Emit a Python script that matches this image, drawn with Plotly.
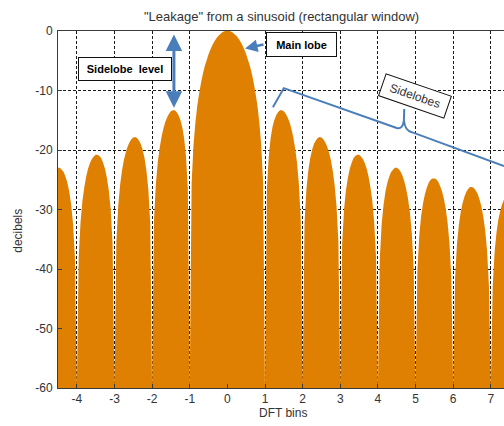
import numpy as np
import plotly.graph_objects as go

# Spectrum of a rectangular-windowed sinusoid, in dB, sampled every 0.05 bin
BIN_START, BIN_STOP, BIN_STEP = -4.5, 7.4, 0.05
bins = np.round(np.arange(BIN_START, BIN_STOP + BIN_STEP / 2, BIN_STEP), 2)

level_db = [
    # -4.50 .. -4.05
    -23.0, -23.0, -23.3, -23.7, -24.5, -25.5, -27.0, -29.2, -32.4, -38.2,
    # -4.00 .. -3.05
    -60.0, -38.0, -32.0, -28.5, -26.2, -24.4, -23.1, -22.2, -21.5, -21.1,
    -20.8, -20.8, -21.0, -21.4, -22.2, -23.2, -24.7, -26.8, -30.0, -35.7,
    # -3.00 .. -2.05
    -60.0, -35.5, -29.4, -25.9, -23.5, -21.7, -20.4, -19.4, -18.7, -18.2,
    -17.9, -17.8, -18.0, -18.4, -19.0, -20.0, -21.4, -23.5, -26.6, -32.3,
    # -2.00 .. -1.05
    -60.0, -31.9, -25.7, -22.1, -19.7, -17.8, -16.4, -15.3, -14.5, -13.9,
    -13.5, -13.3, -13.3, -13.6, -14.1, -14.9, -16.1, -18.0, -21.0, -26.5,
    # -1.00 .. -0.05
    -60.0, -25.6, -19.2, -15.4, -12.6, -10.5, -8.7, -7.2, -5.9, -4.9,
    -3.9, -3.1, -2.4, -1.8, -1.3, -0.9, -0.6, -0.3, -0.1, -0.0,
    # 0.00 .. 0.95
    0.0, -0.0, -0.1, -0.3, -0.6, -0.9, -1.3, -1.8, -2.4, -3.1,
    -3.9, -4.9, -5.9, -7.2, -8.7, -10.5, -12.6, -15.4, -19.2, -25.6,
    # 1.00 .. 1.95
    -60.0, -26.5, -21.0, -18.0, -16.1, -14.9, -14.1, -13.6, -13.3, -13.3,
    -13.5, -13.9, -14.5, -15.3, -16.4, -17.8, -19.7, -22.1, -25.7, -31.9,
    # 2.00 .. 2.95
    -60.0, -32.3, -26.6, -23.5, -21.4, -20.0, -19.0, -18.4, -18.0, -17.8,
    -17.9, -18.2, -18.7, -19.4, -20.4, -21.7, -23.5, -25.9, -29.4, -35.5,
    # 3.00 .. 3.95
    -60.0, -35.7, -30.0, -26.8, -24.7, -23.2, -22.2, -21.4, -21.0, -20.8,
    -20.8, -21.1, -21.5, -22.2, -23.1, -24.4, -26.2, -28.5, -32.0, -38.0,
    # 4.00 .. 4.95
    -60.0, -38.2, -32.4, -29.2, -27.0, -25.5, -24.5, -23.7, -23.3, -23.0,
    -23.0, -23.2, -23.6, -24.3, -25.2, -26.5, -28.2, -30.5, -33.9, -39.9,
    # 5.00 .. 5.95
    -60.0, -40.1, -34.3, -31.0, -28.9, -27.4, -26.3, -25.5, -25.0, -24.8,
    -24.8, -24.9, -25.3, -26.0, -26.9, -28.1, -29.8, -32.1, -35.6, -41.5,
    # 6.00 .. 6.95
    -60.0, -41.7, -35.9, -32.6, -30.4, -28.9, -27.8, -27.0, -26.5, -26.2,
    -26.2, -26.4, -26.8, -27.4, -28.3, -29.5, -31.2, -33.5, -36.9, -42.9,
    # 7.00 .. 7.40
    -60.0, -43.0, -37.2, -33.9, -31.7, -30.2, -29.1, -28.3, -27.8,
]
assert len(level_db) == len(bins)

x_ticks = [-4, -3, -2, -1, 0, 1, 2, 3, 4, 5, 6, 7]
x_tick_labels = ["-4", "-3", "-2", "-1", "0", "1", "2", "3", "4", "5", "6", "7"]
y_ticks = [0, -10, -20, -30, -40, -50, -60]
y_tick_labels = ["0", "-10", "-20", "-30", "-40", "-50", "-60"]
X_RANGE = [-4.5, 7.35]
Y_RANGE = [-60, 0]

TITLE = '"Leakage" from a sinusoid (rectangular window)'
X_TITLE = "DFT bins"
Y_TITLE = "decibels"

ORANGE = "#E08003"
BLUE = "#4A7EBB"
TEXT = "#333333"
FONT = "Liberation Sans, Arial, sans-serif"

fig = go.Figure()

# filled spectrum, closed down to the axis floor
fig.add_trace(go.Scatter(
    x=list(bins) + [bins[-1], bins[0]],
    y=level_db + [Y_RANGE[0], Y_RANGE[0]],
    mode="none",
    fill="toself",
    fillcolor=ORANGE,
    hoverinfo="skip",
))

axis_common = dict(
    showgrid=True, gridcolor="#1a1a1a", gridwidth=1, griddash="3px,2px",
    zeroline=False, showline=True, linecolor="#3a3a3a", linewidth=1,
    ticks="inside", ticklen=4, tickcolor="#3a3a3a",
    tickfont=dict(family=FONT, size=12, color=TEXT),
)
fig.update_xaxes(range=X_RANGE, tickvals=x_ticks, ticktext=x_tick_labels,
                 mirror=True, **axis_common)
fig.update_yaxes(range=Y_RANGE, tickvals=y_ticks, ticktext=y_tick_labels,
                 ticklabelstandoff=2, **axis_common)

annotations = [
    dict(text=TITLE, xref="paper", yref="paper", x=0.502, y=1.042,
         xanchor="center", yanchor="middle", showarrow=False,
         font=dict(family=FONT, size=13, color=TEXT)),
    dict(text=X_TITLE, xref="paper", yref="paper", x=0.505, y=-0.07,
         xanchor="center", yanchor="middle", showarrow=False,
         font=dict(family=FONT, size=12, color=TEXT)),
    dict(text=Y_TITLE, xref="paper", yref="paper", x=-0.09, y=0.44,
         xanchor="center", yanchor="middle", showarrow=False, textangle=-90,
         font=dict(family=FONT, size=12, color=TEXT)),
    # labelled boxes
    dict(text="Sidelobe  level", x=-2.72, y=-6.4, showarrow=False,
         width=90, height=20, bgcolor="white", bordercolor="#111", borderwidth=1,
         font=dict(family=FONT, size=11, color="black", weight="bold")),
    dict(text="Main lobe", x=1.98, y=-2.3, showarrow=False,
         width=67, height=21, bgcolor="white", bordercolor="#111", borderwidth=1,
         font=dict(family=FONT, size=11, color="black", weight="bold")),
    dict(text="Sidelobes", x=4.99, y=-10.9, showarrow=False, textangle=19,
         width=66, height=20, bgcolor="white", bordercolor="#111", borderwidth=1,
         font=dict(family=FONT, size=12, color=TEXT)),
    # double arrow spanning main-lobe peak to first sidelobe
    dict(text="", x=-1.42, y=-12.9, ax=-1.42, ay=-0.35, axref="x", ayref="y",
         showarrow=True, arrowside="end+start", arrowhead=2, arrowsize=1.1,
         arrowwidth=3, arrowcolor=BLUE),
    # pointer to main lobe
    dict(text="", x=0.47, y=-2.95, ax=1.0, ay=-2.2, axref="x", ayref="y",
         showarrow=True, arrowhead=2, arrowsize=1.0, arrowwidth=2.5, arrowcolor=BLUE),
]

shapes = [
    dict(type="path", xref="x", yref="y", layer="above",
         path=("M 1.21,-12.8 L 1.50,-9.6 L 4.50,-16.3 Q 4.66,-16.6 4.69,-15.0 "
               "L 4.70,-13.1 M 4.69,-15.0 Q 4.72,-16.8 4.90,-17.0 L 7.35,-22.7"),
         line=dict(color=BLUE, width=2)),
]

fig.update_layout(
    width=504, height=426,
    margin=dict(l=58, r=0, t=31, b=38),
    plot_bgcolor="white", paper_bgcolor="white",
    showlegend=False,
    annotations=annotations,
    shapes=shapes,
)

fig.write_html("out.html")
